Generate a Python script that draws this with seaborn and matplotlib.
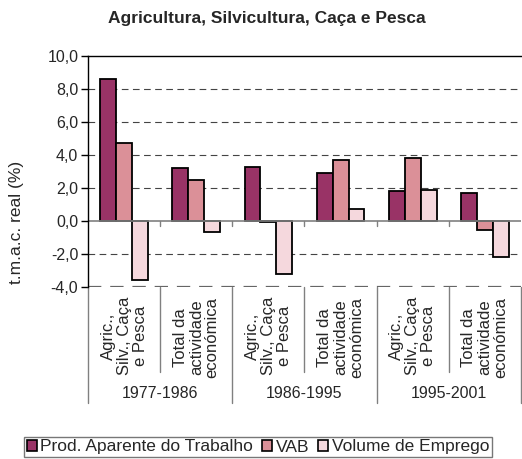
import matplotlib
matplotlib.use('Agg')
import matplotlib.pyplot as plt
import seaborn as sns
import numpy as np
import pandas as pd
from matplotlib.patches import Patch
from matplotlib.ticker import FuncFormatter

sns.set_style('white')
plt.rcParams['font.family'] = ['Liberation Sans', 'DejaVu Sans']

periods = ['1977-1986', '1986-1995', '1995-2001']
sectors = ['Agric.,\nSilv., Caça\ne Pesca', 'Total da\nactividade\neconómica']
series = ['Prod. Aparente do Trabalho', 'VAB', 'Volume de Emprego']
prod = [8.6, 3.2, 3.3, 2.9, 1.8, 1.7]
vab = [4.7, 2.5, -0.05, 3.7, 3.8, -0.55]
emprego = [-3.6, -0.65, -3.2, 0.75, 1.85, -2.2]
colors = ['#993366', '#db9098', '#f5d8dd']

keys = [f'{p} {s}' for p in periods for s in sectors]
df = pd.DataFrame({
    'cat': keys * 3,
    'serie': np.repeat(series, len(keys)),
    'valor': prod + vab + emprego,
})

fig = plt.figure(figsize=(5.22, 4.59), dpi=100)
ax = fig.add_axes([88 / 522, 1 - 287 / 459, 433 / 522, 231 / 459])

sns.barplot(data=df, x='cat', y='valor', hue='serie', order=keys,
            hue_order=series, palette=colors, width=0.66, ax=ax,
            edgecolor='black', linewidth=1.3, saturation=1, legend=False)

ax.set_xlim(-0.5, len(keys) - 0.5)
ax.set_ylim(-4, 10)
ax.set_yticks(np.arange(-4, 10.1, 2))
ax.yaxis.set_major_formatter(FuncFormatter(lambda v, _: f'{v:.1f}'.replace('.', ',')))
ax.tick_params(axis='y', labelsize=11.5, length=5, width=1, color='black', left=True, pad=2)
ax.set_xticks([])
ax.set_xlabel('')
ax.set_ylabel('')

for v in [-4, -2, 2, 4, 6, 8]:
    ax.axhline(v, color='#444444' if v != -4 else '#666666',
               lw=0.8 if v != -4 else 1.6, ls=(0, (6, 4)), zorder=0)
ax.axhline(0, color='#808080', lw=1.2, zorder=1)

for s in ['right', 'bottom']:
    ax.spines[s].set_visible(False)
ax.spines['left'].set_color('black')
ax.spines['top'].set_color('black')
ax.spines['left'].set_linewidth(1)
ax.spines['top'].set_linewidth(1)

trans = ax.get_xaxis_transform()
# small ticks on zero line at category boundaries
for b in np.arange(0.5, len(keys) - 0.5, 1):
    ax.plot([b, b], [0, -0.3], color='#808080', lw=1, clip_on=False, zorder=1)


def yax(px):
    # pixel row of the figure -> axes fraction
    return (287 - px) / 231.0


for i, b in enumerate(np.arange(-0.5, len(keys), 1)):
    end = 403 if i % 2 == 0 else 372
    ax.plot([b, b], [0, yax(end)], transform=trans, color='#808080',
            lw=1, clip_on=False)

for i, k in enumerate(keys):
    ax.text(i, yax(297), sectors[i % 2], transform=trans, rotation=90,
            ha='center', va='top', multialignment='center', fontsize=12,
            linespacing=1.08)

for j, p in enumerate(periods):
    ax.text(2 * j + 0.5, yax(394), p, transform=trans, ha='center',
            va='center', fontsize=11.5)

fig.text(267 / 522, 1 - 18 / 459, 'Agricultura, Silvicultura, Caça e Pesca',
         ha='center', va='center', fontsize=12.5, fontweight='bold')
fig.text(17 / 522, 1 - 222 / 459, 't.m.a.c. real (%)', rotation=90,
         ha='center', va='center', fontsize=12.5)

handles = [Patch(facecolor=c, edgecolor='black', linewidth=1.2) for c in colors]
leg = fig.legend(handles, series, loc='center', bbox_to_anchor=(258 / 522, 1 - 447 / 459),
                 ncol=3, frameon=True, fancybox=False, fontsize=12.5,
                 handlelength=0.6, handleheight=0.6, handletextpad=0.2,
                 columnspacing=0.5, borderpad=0.15, borderaxespad=0)
leg.get_frame().set_edgecolor('#555555')
leg.get_frame().set_linewidth(1)

fig.savefig('out.png', dpi=100)
